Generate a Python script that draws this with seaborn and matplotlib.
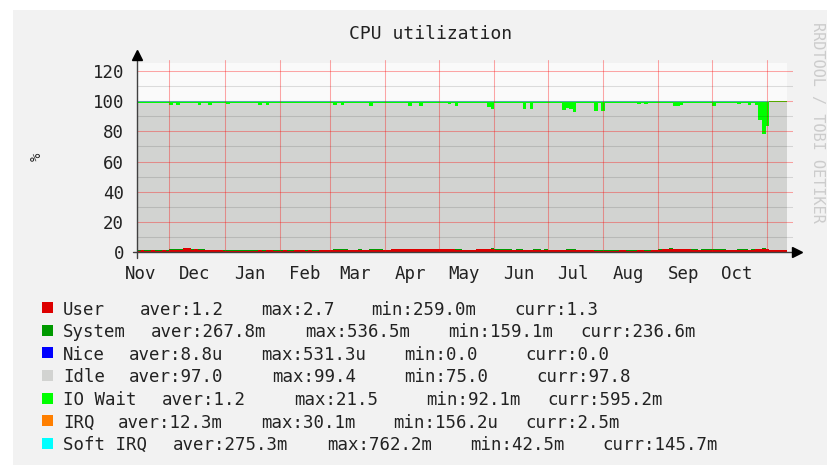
import re
import numpy as np
import pandas as pd
import matplotlib
matplotlib.use("Agg")
import matplotlib.pyplot as plt
from matplotlib.patches import Rectangle
import seaborn as sns

# 2-day averages, starting 2012-11-13 (182 bins)
start = pd.Timestamp("2012-11-13")
user = [
    0.9, 1.0, 0.8, 0.9, 1.1, 0.9, 0.8, 1.0, 0.9,                                  # Nov
    1.5, 1.6, 1.4, 1.5, 2.7, 2.4, 1.6, 1.7, 1.5, 1.6, 1.0, 1.3, 1.3, 1.2, 1.0,    # Dec
    0.8, 0.9, 0.8, 0.8, 0.9, 0.8, 0.8, 0.9, 0.8, 0.9, 1.4, 0.9, 1.4, 1.3, 0.8, 0.9,  # Jan
    0.9, 1.0, 0.9, 0.9, 1.3, 1.3, 1.0, 0.9, 1.0, 0.9, 0.9, 1.0, 1.0, 1.2,      # Feb
    1.0, 1.6, 1.6, 1.5, 1.6, 1.1, 1.3, 1.3, 1.4, 1.3, 1.1, 1.5, 1.5, 1.4, 1.5, 1.2,  # Mar
    1.2, 1.8, 1.8, 1.7, 1.8, 1.8, 1.7, 1.8, 1.8, 1.7, 1.8, 1.8, 1.7, 1.8, 1.8,  # Apr
    1.7, 2.0, 1.8, 1.7, 1.6, 1.6, 1.2, 1.1, 1.2, 1.3, 1.7, 1.8, 1.9, 1.8, 2.2,  # May
    1.5, 1.4, 1.4, 1.5, 1.4, 1.3, 1.4, 1.4, 1.2, 1.3, 1.2, 1.4, 1.4, 1.3, 1.4,  # Jun
    1.2, 1.2, 1.3, 1.1, 1.2, 1.6, 1.6, 1.5, 1.0, 1.2, 1.2, 1.3, 1.1, 0.8, 0.9, 0.8,  # Jul
    0.8, 0.9, 0.8, 0.8, 1.1, 1.1, 0.8, 0.9, 0.9, 1.2, 1.2, 0.9, 0.9, 1.4, 1.4, 1.5,  # Aug
    1.8, 1.8, 2.3, 1.9, 1.8, 1.7, 1.8, 1.7, 1.4, 1.4, 1.3, 1.4, 1.4, 1.5, 1.4,  # Sep
    1.6, 1.6, 1.5, 1.2, 1.2, 1.3, 1.5, 1.5, 1.4, 1.3, 1.5, 1.8, 1.8, 2.1, 1.8,  # Oct
    1.4, 1.3, 1.2, 1.3, 1.3,                                                     # Nov
]
io_wait = [
    0.7, 0.7, 0.7, 0.7, 0.7, 0.7, 0.7, 0.7, 0.7,
    2.2, 0.7, 2.0, 0.7, 0.7, 0.7, 0.7, 0.7, 2.2, 0.7, 0.7, 2.2, 0.7, 0.7, 0.7,
    0.7, 1.3, 0.7, 0.7, 0.7, 0.7, 0.7, 1.2, 0.7, 0.7, 2.2, 0.7, 2.2, 0.7, 0.7, 0.7,
    0.7, 0.7, 0.7, 0.7, 0.7, 0.7, 0.7, 0.7, 0.7, 0.7, 0.7, 0.7, 0.7, 0.7,
    0.7, 2.2, 0.7, 2.0, 0.7, 0.7, 0.7, 0.7, 0.7, 0.7, 0.7, 3.1, 0.7, 0.7, 0.7, 0.7,
    0.7, 0.7, 0.7, 0.7, 0.7, 0.7, 2.9, 0.7, 0.7, 2.9, 0.7, 0.7, 0.7, 0.7, 0.7,
    0.7, 0.7, 1.4, 0.7, 2.9, 0.7, 0.7, 0.7, 0.7, 0.7, 0.7, 0.7, 0.7, 3.5, 4.6,
    0.7, 0.7, 0.7, 0.7, 0.7, 0.7, 0.7, 0.7, 5.0, 0.7, 5.0, 0.7, 0.7, 0.7, 0.7,
    0.7, 0.7, 0.7, 0.7, 5.7, 4.0, 5.0, 7.0, 0.7, 0.7, 0.7, 0.7, 0.7, 6.2, 0.7, 6.2,
    0.7, 0.7, 0.7, 0.7, 0.7, 0.7, 0.7, 0.7, 0.7, 1.3, 0.7, 1.3, 0.7, 0.7, 0.7, 0.7,
    0.7, 0.7, 0.7, 2.9, 2.9, 2.5, 0.7, 0.7, 0.7, 0.7, 0.7, 0.7, 0.7, 0.7, 2.9,
    0.7, 1.2, 0.7, 0.7, 0.7, 0.7, 1.3, 0.7, 0.7, 2.5, 0.7, 2.0, 12.0, 21.5, 16.0,
    0.7, 0.7, 0.7, 0.7, 0.7,
]
# monthly values for the thin layers, Nov 2012 .. Nov 2013
system_m = [0.25, 0.28, 0.24, 0.26, 0.30, 0.33, 0.31, 0.27, 0.26, 0.22, 0.28, 0.27, 0.24]
nice_m = [0.0, 0.00002, 0.0, 0.0, 0.00001, 0.0, 0.0, 0.0, 0.0, 0.00003, 0.0, 0.0, 0.0]
irq_m = [0.011, 0.013, 0.010, 0.012, 0.014, 0.015, 0.013, 0.012, 0.011, 0.010, 0.013, 0.012, 0.003]
soft_irq_m = [0.26, 0.29, 0.25, 0.27, 0.31, 0.33, 0.30, 0.28, 0.27, 0.24, 0.28, 0.27, 0.15]

month_labels = ["Nov", "Dec", "Jan", "Feb", "Mar", "Apr", "May", "Jun", "Jul", "Aug", "Sep", "Oct"]
y_ticks = [0, 20, 40, 60, 80, 100, 120]

series_names = ["User", "System", "Nice", "Idle", "IO Wait", "IRQ", "Soft IRQ"]
series_colors = ["#dd0000", "#009a00", "#0000ff", "#d2d3d1", "#00ff00", "#ff7f00", "#00ffff"]
legend_lines = [
    "User   aver:1.2   max:2.7   min:259.0m   curr:1.3",
    "System  aver:267.8m   max:536.5m   min:159.1m  curr:236.6m",
    "Nice  aver:8.8u   max:531.3u   min:0.0    curr:0.0",
    "Idle  aver:97.0    max:99.4    min:75.0    curr:97.8",
    "IO Wait  aver:1.2    max:21.5    min:92.1m  curr:595.2m",
    "IRQ  aver:12.3m   max:30.1m   min:156.2u  curr:2.5m",
    "Soft IRQ  aver:275.3m   max:762.2m   min:42.5m   curr:145.7m",
]

# ---- build frame ----
dates = start + pd.to_timedelta(np.arange(len(user)) * 2, unit="D")
df = pd.DataFrame({"date": dates, "User": user, "IO Wait": io_wait})
midx = (df["date"].dt.year - 2012) * 12 + df["date"].dt.month - 11
df["System"] = np.array(system_m)[midx]
df["Nice"] = np.array(nice_m)[midx]
df["IRQ"] = np.array(irq_m)[midx]
df["Soft IRQ"] = np.array(soft_irq_m)[midx]
df["Idle"] = 100 - df[["User", "System", "Nice", "IO Wait", "IRQ", "Soft IRQ"]].sum(axis=1)

end = dates[-1] + pd.Timedelta(days=2)
xs = list(dates) + [end]
ys = [np.append(df[n].values, df[n].values[-1]) for n in series_names]

# ---- style ----
sns.set_theme(style="white")
plt.rcParams["font.family"] = ["DejaVu Sans Mono", "DejaVu Sans"]
W, H = 827, 465
fig = plt.figure(figsize=(W / 100, H / 100), dpi=100, facecolor="white")
fig.add_artist(Rectangle((13 / W, 0), 1 - 13 / W, (H - 10) / H, transform=fig.transFigure,
                         facecolor="#f2f2f2", edgecolor="none", zorder=-10))

ax_l, ax_r, ax_t, ax_b = 137, 793, 60, 252
ax = fig.add_axes([ax_l / W, 1 - ax_b / H, (ax_r - ax_l) / W, (ax_b - ax_t) / H])
ax.set_facecolor("#f2f2f2")
px_per_unit = (252 - 71) / 120
ytop = (ax_b - ax_t) / px_per_unit
canvas_top = (ax_b - 63) / px_per_unit
px_per_day = 650 / (end - start).days
ax.set_xlim(start, end + pd.Timedelta(days=(ax_r - 787) / px_per_day))
ax.set_ylim(0, ytop)

ax.axvspan(start, end, ymin=0, ymax=canvas_top / ytop, color="#fafafa", zorder=0, lw=0)
ax.stackplot(xs, *ys, colors=series_colors, step="post", linewidth=0, zorder=1)

# grid
red_a = 0.34
month_starts = pd.date_range("2012-12-01", periods=12, freq="MS")
mid_months = pd.date_range("2012-11-01", periods=12, freq="MS") + pd.Timedelta(days=14)
ax.set_xticks(month_starts)
ax.set_xticklabels([])
ax.set_xticks(mid_months, labels=month_labels, minor=True)
ax.set_yticks(y_ticks)
ax.set_yticks([10, 30, 50, 70, 90, 110], minor=True)
ax.set_axisbelow(False)
ax.grid(True, which="major", color="#ff0000", alpha=red_a, lw=0.75, zorder=3)
ax.grid(True, which="minor", axis="y", color="#000000", alpha=0.12, lw=0.75, zorder=3)
ax.tick_params(axis="x", which="major", length=4.3, width=0.75, color=(1, 0, 0, red_a), direction="out")
ax.tick_params(axis="x", which="minor", length=0, pad=9, labelsize=12.5, labelcolor="#222222")
ax.tick_params(axis="y", which="major", length=2.9, width=0.75, color=(1, 0, 0, red_a), direction="out",
               pad=6.5, labelsize=12.5, labelcolor="#222222")
ax.tick_params(axis="y", which="minor", length=0)
sns.despine(ax=ax, left=True, bottom=True)

# axis lines with arrows
axc = "#404040"
ax.plot([0, 0], [-6 / 192, 1], transform=ax.transAxes, color=axc, lw=1.0, clip_on=False, zorder=5)
ax.plot([-4 / 656, 1], [0, 0], transform=ax.transAxes, color=axc, lw=1.0, clip_on=False, zorder=5)
ax.plot([0], [1 + 5 / 192], marker="^", ms=7, color="black", transform=ax.transAxes, clip_on=False, zorder=6)
ax.plot([1 + 4 / 656], [0], marker=">", ms=7, color="black", transform=ax.transAxes, clip_on=False, zorder=6)

# texts
fig.text(431 / W, 1 - 34 / H, "CPU utilization", ha="center", va="center", fontsize=13, color="#222222")
fig.text(37 / W, 1 - 157 / H, "%", ha="center", va="center", rotation=90, fontsize=10, color="#222222")
fig.text(810 / W, 1 - 22 / H, "RRDTOOL / TOBI OETIKER", ha="left", va="top", rotation=270,
         fontsize=11, color="#cccccc")

# legend
cw = 11.0
for i, (line, col) in enumerate(zip(legend_lines, series_colors)):
    yc = 307.7 + i * 22.6
    fig.add_artist(Rectangle((42 / W, 1 - (yc + 5.5) / H), 11 / W, 11 / H, transform=fig.transFigure,
                             facecolor=col, edgecolor="none"))
    for m in re.finditer(r"\S+(?: \S+)*", line):
        fig.text((63 + m.start() * cw) / W, 1 - yc / H, m.group(), ha="left", va="center_baseline",
                 fontsize=12.5, color="#222222")

fig.savefig("out.png", dpi=100, facecolor=fig.get_facecolor())
